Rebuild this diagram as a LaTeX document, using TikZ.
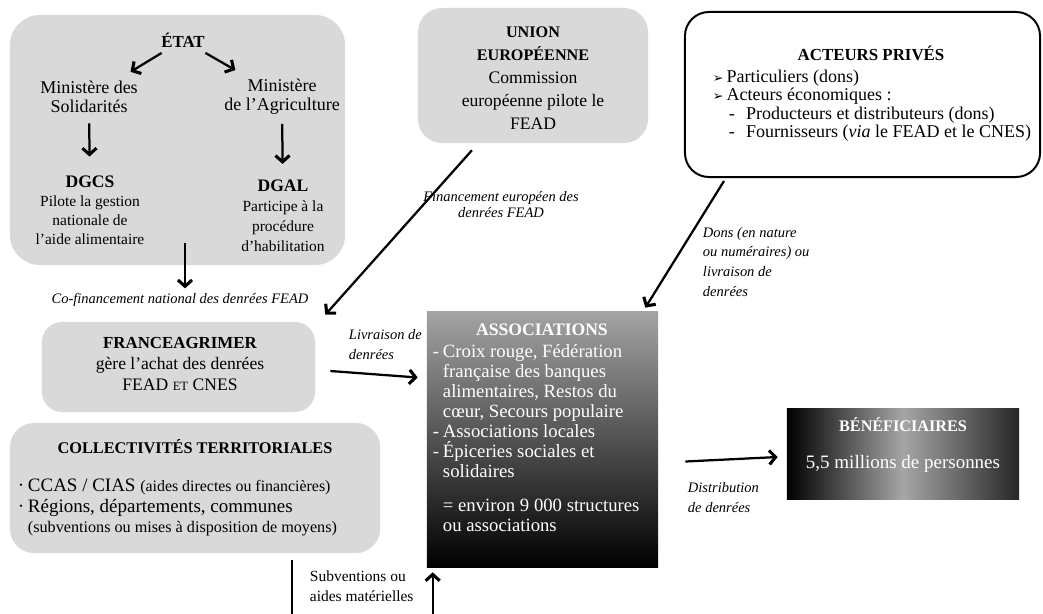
\documentclass[tikz,border=0pt]{standalone}
\usepackage{fontspec}
\setmainfont{Liberation Serif}
\newfontfamily\symfont{DejaVu Sans}
\usetikzlibrary{arrows.meta,calc}

\newcommand{\itemdash}{\makebox[0.25cm][l]{-}}
\newcommand{\itemskip}{\hspace*{0.25cm}}
\newcommand{\arrowbullet}{{\symfont\small ➢}}

\begin{document}
\begin{tikzpicture}[x=0.025cm, y=-0.025cm,
  box/.style={fill=black!15, draw=none},
  arr/.style={line width=1.6pt, -{Straight Barb[length=4.5pt,width=10pt,line width=2.2pt]}},
  lab/.style={font=\fontsize{10.3}{14.2}\selectfont\itshape, align=left},
  txt/.style={font=\fontsize{11}{13.5}\selectfont, align=center}]

  % ====== 1) 画布 ======
  \useasboundingbox (0,0) rectangle (1043,613);

  % ====== 2) 方框 ======
  \node[box, rounded corners=0.75cm, minimum width=8.375cm, minimum height=6.25cm] (etatbox) at (177.5,140) {};
  \node[box, rounded corners=0.6cm, minimum width=5.75cm, minimum height=3.375cm] (uebox) at (533,75.5) {};
  \node[draw, line width=1.4pt, rounded corners=0.6cm, minimum width=8.875cm, minimum height=4.125cm] (privbox) at (862.5,94.5) {};
  \node[box, rounded corners=0.5cm, minimum width=6.825cm, minimum height=2.25cm] (fambox) at (178.5,367) {};
  \node[box, rounded corners=0.6cm, minimum width=9.25cm, minimum height=3.25cm] (collbox) at (195,488) {};
  \node[top color=black!36, bottom color=black, middle color=black!68, minimum width=5.775cm, minimum height=6.375cm] (assobox) at (542.5,439.5) {};
  \node[left color=black, right color=black!85, middle color=black!35, minimum width=5.8cm, minimum height=2.25cm] (benefbox) at (903,454) {};

  % ====== 3) 国家 ======
  \node[font=\fontsize{12}{13}\selectfont\bfseries] (etat) at (183,40) {ÉTAT};
  \node[txt, font=\fontsize{12.8}{13.5}\selectfont] (minsol) at (89,97) {Ministère des\\Solidarités};
  \node[txt, font=\fontsize{12.8}{13.5}\selectfont] (minagr) at (282,97) {Ministère\\de l’Agriculture};
  \node[txt] (dgcs) at (90,210) {{\fontsize{12.5}{13}\selectfont\bfseries DGCS}\\Pilote la gestion\\nationale de\\l’aide alimentaire};
  \node[txt, font=\fontsize{11}{14.2}\selectfont] (dgal) at (283,216) {{\fontsize{12.5}{13}\selectfont\bfseries DGAL}\\Participe à la\\procédure\\d’habilitation};
  \draw[arr, shorten <=1pt, shorten >=6pt] (etat) -- (minsol);
  \draw[arr, shorten <=1pt, shorten >=6pt] (etat) -- (minagr);
  \draw[arr, shorten <=4pt, shorten >=10pt] (minsol) -- (dgcs);
  \draw[arr, shorten <=3pt, shorten >=8pt] (minagr) -- (dgal);

  \node[lab, align=center] (cofin) at (180,300) {Co-financement national des denrées FEAD};
  \coordinate (cofintop) at (185,243);
  \draw[arr] (cofintop) -- (cofintop |- cofin.north);

  % ====== 4) 欧盟 ======
  \node[font=\fontsize{12.5}{16.3}\selectfont, align=center] (ue) at (533,78) {{\fontsize{11.5}{16.3}\selectfont\bfseries UNION}\\{\fontsize{11.5}{16.3}\selectfont\bfseries EUROPÉENNE}\\Commission\\européenne pilote le\\FEAD};
  \node[lab, align=center, font=\fontsize{10.3}{11.4}\selectfont\itshape] (finue) at (501,205) {Financement européen des\\denrées FEAD};
  \draw[arr] ($(uebox.south west)!0.235!(uebox.south east)+(0,7)$) -- ($(fambox.north east)+(10,-7)$);

  % ====== 5) 私人 ======
  \node[font=\fontsize{12}{13}\selectfont\bfseries] (priv) at (871,53) {ACTEURS PRIVÉS};
  \node[font=\fontsize{12.8}{13.1}\selectfont, align=left, anchor=west] (privlist) at (708,105.5)
    {\arrowbullet\,Particuliers (dons)\\
     \arrowbullet\,Acteurs économiques :\\
     \hspace*{0.4cm}-\hspace{0.28cm}Producteurs et distributeurs (dons)\\
     \hspace*{0.4cm}-\hspace{0.28cm}Fournisseurs (\textit{via} le FEAD et le CNES)};
  \node[lab, anchor=west] (dons) at (698,262) {Dons (en nature\\ou numéraires) ou\\livraison de\\denrées};
  \draw[arr] ($(privbox.south west)+(40,3)$) -- ($(assobox.north east)+(-13,-4)$);

  % ====== 6) FranceAgriMer ======
  \node[font=\fontsize{12.5}{15}\selectfont, align=center] (fam) at (180,364) {{\fontsize{12}{15}\selectfont\bfseries FRANCEAGRIMER}\\gère l’achat des denrées\\FEAD {\fontsize{9}{15}\selectfont ET} CNES};
  \node[lab, anchor=west] (livr) at (344,345) {Livraison de\\denrées};
  \draw[arr] ($(fambox.east)+(15,4)$) -- ($(assobox.west)+(-9,-62)$);

  % ====== 7) 地方 ======
  \node[font=\fontsize{11.6}{14}\selectfont\bfseries] (coll) at (195,447) {COLLECTIVITÉS TERRITORIALES};
  \node[font=\fontsize{13.5}{14.5}\selectfont, align=left, anchor=west] (colllist) at (13,507.5)
    {\makebox[0.25cm][l]{·}CCAS / CIAS {\fontsize{11.3}{14.5}\selectfont(aides directes ou financières)}\\
     \makebox[0.25cm][l]{·}Régions, départements, communes\\
     \itemskip{\fontsize{11.5}{14.5}\selectfont(subventions ou mises à disposition de moyens)}};
  \coordinate (subv) at (292,560);
  \draw[arr] (subv) -- (292,650) -| ($(assobox.south west)+(6,5)$);
  \node[font=\fontsize{11}{14}\selectfont, align=left, anchor=west] (subvlab) at (305,586) {Subventions ou\\aides matérielles};

  % ====== 8) 协会与受益人 ======
  \node[font=\fontsize{12.5}{14}\selectfont\bfseries, text=white] (asso) at (542,330) {ASSOCIATIONS};
  \node[font=\fontsize{13.3}{14.2}\selectfont, text=white, align=left, anchor=north west] (assolist) at (428,340)
    {\itemdash Croix rouge, Fédération\\
     \itemskip française des banques\\
     \itemskip alimentaires, Restos du\\
     \itemskip cœur, Secours populaire\\
     \itemdash Associations locales\\
     \itemdash Épiceries sociales et\\
     \itemskip solidaires\\[10pt]
     \itemskip = environ 9~000 structures\\
     \itemskip ou associations};
  \node[font=\fontsize{11.5}{14}\selectfont\bfseries, text=white] (benef) at (903,425) {BÉNÉFICIAIRES};
  \node[font=\fontsize{13.5}{14}\selectfont, text=white] (pers) at (903,464) {5,5 millions de personnes};
  \draw[arr] ($(assobox.east)+(27,22)$) -- ($(benefbox.west)+(-9,3)$);
  \node[lab, anchor=west] (distr) at (683,498) {Distribution\\de denrées};

\end{tikzpicture}
\end{document}
